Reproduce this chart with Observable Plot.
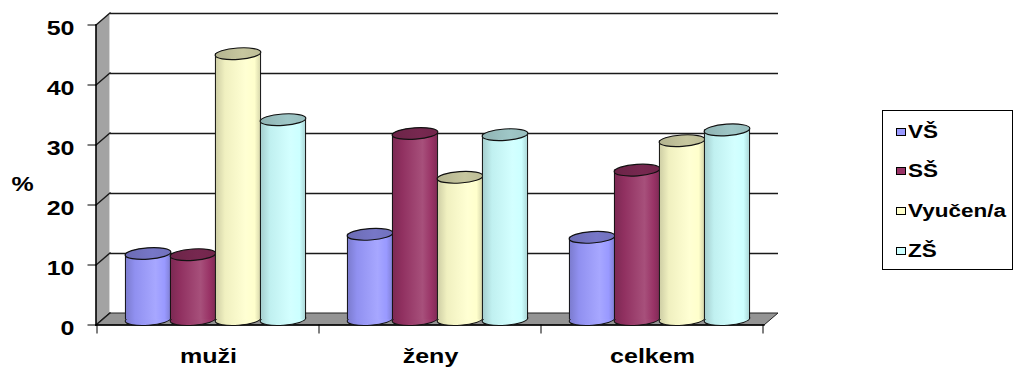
<!DOCTYPE html>
<html lang="cs">
<head>
<meta charset="utf-8">
<title>Vzdělání podle pohlaví</title>
<script src="https://cdn.jsdelivr.net/npm/d3@7"></script>
<script src="https://cdn.jsdelivr.net/npm/@observablehq/plot@0.6"></script>
<style>
  html, body { margin: 0; padding: 0; background: #fff; }
  #chart { position: relative; width: 1016px; height: 367px; overflow: hidden; font-family: "Liberation Sans", Arial, Helvetica, sans-serif; }
  #chart > svg { position: absolute; left: 0; top: 0; }
  .legend { position: absolute; left: 882px; top: 110px; width: 131px; height: 160px; box-sizing: border-box; border: 1px solid #000; background: #fff; }
  .legend .item { position: absolute; left: 13px; height: 20px; margin-top: -10px; display: flex; align-items: center; white-space: nowrap; }
  .legend .swatch { width: 8px; height: 6px; border: 1.5px solid #000; }
  .legend .name { margin-left: 2px; font-weight: bold; font-size: 18px; color: #000; transform: scaleX(1.25); transform-origin: 0 50%; }
</style>
</head>
<body>
<div id="chart"></div>
<script>
// ---- data -------------------------------------------------------------
const categories = ["muži", "ženy", "celkem"];
const series = ["VŠ", "SŠ", "Vyučen/a", "ZŠ"];
const vs      = [11.0, 14.2, 13.7];
const ss      = [10.8, 31.0, 24.9];
const vyuceni = [44.3, 23.7, 29.8];
const zs      = [33.3, 30.8, 31.6];
const yTicks  = [0, 10, 20, 30, 40, 50];
const yTitle  = "%";

const seriesValues = [vs, ss, vyuceni, zs];
const rows = categories.flatMap((category, c) =>
  series.map((s, i) => ({category, series: s, value: seriesValues[i][c]})));

// ---- styles & layout ----------------------------------------------------
const colors = ["#9999ff", "#993366", "#ffffcc", "#ccffff"];
const W = 1016, H = 367;
const margins = {marginLeft: 96, marginRight: 252, marginTop: 25, marginBottom: 42};
const DX = 14, DY = -12;              // depth of the 3D box (back wall offset)
const MX = DX / 2, MY = DY / 2;       // cylinders stand at mid depth
const PAD = 0.434;                    // outer padding of the cylinder group
const R = (W - margins.marginLeft - margins.marginRight) / categories.length / (series.length + 2 * PAD) / 2;
const RY = 0.25;                      // ellipse flattening of cylinder caps
const TILT = -4;
const EDGE = "#111";
const FONT = `"Liberation Sans", Arial, Helvetica, sans-serif`;
const STRETCH = 1.25;                 // wide letterforms
const mix = (a, b, t) => d3.interpolateRgb(a, b)(t);

// elliptical cap used as a dot symbol
const ellipse = {
  draw(context, size) {
    const rx = Math.sqrt(size / Math.PI), ry = rx * RY, k = 0.5523;
    context.moveTo(rx, 0);
    context.bezierCurveTo(rx, ry * k, rx * k, ry, 0, ry);
    context.bezierCurveTo(-rx * k, ry, -rx, ry * k, -rx, 0);
    context.bezierCurveTo(-rx, -ry * k, -rx * k, -ry, 0, -ry);
    context.bezierCurveTo(rx * k, -ry, rx, -ry * k, rx, 0);
    context.closePath();
  }
};

// side wall, floor, front axis lines and ticks of the 3D box
function box(index, scales, values, dims) {
  const {x, y} = scales;
  const left = dims.marginLeft, right = dims.width - dims.marginRight;
  const y0 = y(yTicks[0]), y1 = y(yTicks[yTicks.length - 1]);
  const line = d3.line();
  const g = d3.create("svg:g").attr("fill", "none").attr("stroke-linecap", "square");
  g.append("path")
    .attr("fill", "#a3a3a3")
    .attr("d", line([[left, y0], [left, y1], [left + DX, y1 + DY], [left + DX, y0 + DY]]) + "Z");
  g.append("path")
    .attr("stroke", "#d6d6d6").attr("stroke-width", 1)
    .attr("d", line([[left + DX - 0.5, y1 + DY + 1], [left + DX - 0.5, y0 + DY]]));
  g.append("path")
    .attr("fill", "#949494").attr("stroke", "#222").attr("stroke-width", 1)
    .attr("d", line([[left, y0], [right, y0], [right + DX, y0 + DY], [left + DX, y0 + DY]]) + "Z");
  for (const v of yTicks) {
    g.append("path").attr("stroke", "#1a1a1a").attr("stroke-width", 1.4)
      .attr("d", line([[left, y(v)], [left + DX, y(v) + DY]]));
    g.append("path").attr("stroke", "#000").attr("stroke-width", 1)
      .attr("d", line([[left - 8, y(v)], [left, y(v)]]));
  }
  g.append("path").attr("stroke", "#000").attr("stroke-width", 1.6)
    .attr("d", line([[left, y0], [left, y1]]));
  g.append("path").attr("stroke", "#000").attr("stroke-width", 1.4)
    .attr("d", line([[left, y0], [right, y0]]));
  const bw = x && x.bandwidth && x.bandwidth() > 0 ? x.bandwidth() : (right - left) / categories.length;
  const start = (c, i) => (x && x.bandwidth && x.bandwidth() > 0) ? x(c) : left + i * bw;
  const edges = categories.map(start).concat([start(categories[categories.length - 1], categories.length - 1) + bw]);
  for (const e of edges) {
    g.append("path").attr("stroke", "#000").attr("stroke-width", 1)
      .attr("d", line([[e, y0], [e, y0 + 8]]));
  }
  return g.node();
}

const textStyle = {fontSize: 20, fontWeight: "bold", fill: "#000"};

const base = Plot.plot({
  width: W, height: H, ...margins,
  style: {background: "transparent", fontFamily: FONT, color: "#000"},
  x: {type: "band", domain: categories, padding: 0, axis: null},
  y: {domain: [yTicks[0], yTicks[yTicks.length - 1]], axis: null},
  marks: [
    box,
    Plot.ruleY(yTicks.slice(1), {dx: DX, dy: DY, stroke: "#1a1a1a", strokeWidth: 1.6}),
    Plot.text(yTicks, {y: d => d, text: d => String(d), frameAnchor: "left", textAnchor: "end", dx: -22, dy: 3, ...textStyle}),
    Plot.text(categories, {x: d => d, text: d => d, frameAnchor: "bottom", dy: 37.5, ...textStyle}),
    Plot.text([yTitle], {text: d => d, frameAnchor: "left", textAnchor: "middle", dx: -74, dy: 8.6, ...textStyle})
  ]
});

// cylinders: one facet per category, one band per series
const cylinderMarks = series.flatMap((s, i) => {
  const only = d => d.series === s;
  const body = `url(#cyl-body-${i})`, cap = `url(#cyl-cap-${i})`;
  return [
    Plot.dot(rows, {filter: only, x: "series", y: () => 0, r: R, symbol: ellipse, rotate: TILT,
      fill: body, stroke: EDGE, strokeWidth: 1, dx: MX, dy: MY}),
    Plot.barY(rows, {filter: only, x: "series", y1: () => 0, y2: "value", fill: body, dx: MX, dy: MY}),
    Plot.ruleX(rows, {filter: only, x: "series", y1: () => 0, y2: "value", stroke: EDGE, strokeWidth: 1, dx: MX - R + 0.3, dy: MY}),
    Plot.ruleX(rows, {filter: only, x: "series", y1: () => 0, y2: "value", stroke: EDGE, strokeWidth: 1, dx: MX + R - 0.3, dy: MY}),
    Plot.dot(rows, {filter: only, x: "series", y: "value", r: R, symbol: ellipse, rotate: TILT,
      fill: cap, stroke: EDGE, strokeWidth: 1.2, dx: MX, dy: MY})
  ];
});

const bars = Plot.plot({
  width: W, height: H, ...margins,
  style: {background: "transparent", fontFamily: FONT, overflow: "visible"},
  facet: {data: rows, x: "category"},
  fx: {domain: categories, padding: 0, axis: null},
  x: {domain: series, paddingInner: 0, paddingOuter: PAD, axis: null},
  y: {domain: [yTicks[0], yTicks[yTicks.length - 1]], axis: null},
  marks: cylinderMarks
});

// shading of the cylinders
const defs = d3.select(bars).insert("defs", ":first-child");
colors.forEach((c, i) => {
  const bodyGrad = defs.append("linearGradient").attr("id", `cyl-body-${i}`)
    .attr("x1", 0).attr("x2", 1).attr("y1", 0).attr("y2", 0);
  [[0, mix(c, "#000", 0.2)], [0.22, mix(c, "#000", 0.06)], [0.68, mix(c, "#fff", 0.14)],
   [0.88, c], [1, mix(c, "#000", 0.15)]]
    .forEach(([o, col]) => bodyGrad.append("stop").attr("offset", o).attr("stop-color", col));
  const capGrad = defs.append("linearGradient").attr("id", `cyl-cap-${i}`)
    .attr("x1", 0).attr("x2", 1).attr("y1", 0).attr("y2", 0);
  [[0, mix(c, "#000", 0.3)], [0.6, mix(c, "#000", 0.22)], [1, mix(c, "#000", 0.26)]]
    .forEach(([o, col]) => capGrad.append("stop").attr("offset", o).attr("stop-color", col));
});

// legend
const legend = document.createElement("div");
legend.className = "legend";
const rowTops = [21, 60, 100, 140];
series.forEach((s, i) => {
  const item = document.createElement("div");
  item.className = "item";
  item.style.top = rowTops[i] + "px";
  const sw = document.createElement("span");
  sw.className = "swatch";
  sw.style.background = colors[i];
  const name = document.createElement("span");
  name.className = "name";
  name.textContent = s;
  item.append(sw, name);
  legend.append(item);
});

const chart = document.getElementById("chart");
chart.append(base, bars, legend);

// widen the axis lettering
for (const t of base.querySelectorAll("text")) {
  const len = t.getComputedTextLength();
  if (len > 0) {
    t.setAttribute("textLength", (len * STRETCH).toFixed(1));
    t.setAttribute("lengthAdjust", "spacingAndGlyphs");
  }
}
</script>
</body>
</html>
